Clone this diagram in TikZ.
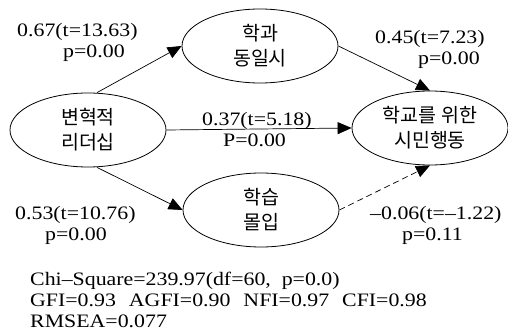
\documentclass[tikz,border=0pt]{standalone}
\usepackage{fontspec}
\setmainfont{Liberation Serif}[FakeStretch=1.15]
\newfontfamily\kr{Noto Sans CJK KR}
\usetikzlibrary{arrows.meta,shapes.geometric}
\tikzset{
  latent/.style={ellipse, draw, line width=0.8pt, minimum width=156pt, minimum height=74pt,
    inner sep=0pt, align=center, font=\kr\fontsize{19.5}{25}\selectfont},
  path/.style={-{Triangle[length=14pt,width=12pt]}, line width=0.7pt},
  coef/.style={anchor=base west, inner sep=0pt, align=left, font=\fontsize{19}{21}\selectfont}
}

\begin{document}
\begin{tikzpicture}[x=1pt, y=1pt]
    \useasboundingbox (0,0) rectangle (508,332);
    \node[latent] (lead) at (88,202) {변혁적\\리더십};
    \node[latent] (ident) at (260,286) {학과\\동일시};
    \node[latent] (ocb) at (430,204) {학교를 위한\\시민행동};
    \node[latent] (immer) at (261,122) {학습\\몰입};
    \draw[path] ([xshift=9pt]lead.north) -- (ident.west);
    \draw[path] (ident.east) -- (ocb.north);
    \draw[path] (lead.east) -- (ocb.west);
    \draw[path] ([xshift=9pt]lead.south) -- (immer.west);
    \draw[path, dash pattern=on 6pt off 4pt] (immer.east) -- (ocb.south);
    % path coefficients (anchored at the last baseline)
    \node[coef] (c1) at (17,274) {0.67(t=13.63)\\\hspace*{46pt}p=0.00};
    \node[coef] (c2) at (375,267) {0.45(t=7.23)\\\hspace*{43pt}p=0.00};
    \node[coef] (c3) at (202,185) {0.37(t=5.18)\\\hspace*{21pt}P=0.00};
    \node[coef] (c4) at (15,92) {0.53(t=10.76)\\\hspace*{30pt}p=0.00};
    \node[coef] (c5) at (370,92) {–0.06(t=–1.22)\\\hspace*{32pt}p=0.11};
    % fit indices
    \node[coef] (fit) at (30,5) {Chi–Square=239.97(df=60, \ p=0.0)\\GFI=0.93\hspace{13pt}AGFI=0.90\hspace{13pt}NFI=0.97\hspace{13pt}CFI=0.98\\RMSEA=0.077};
  \end{tikzpicture}
\end{document}
